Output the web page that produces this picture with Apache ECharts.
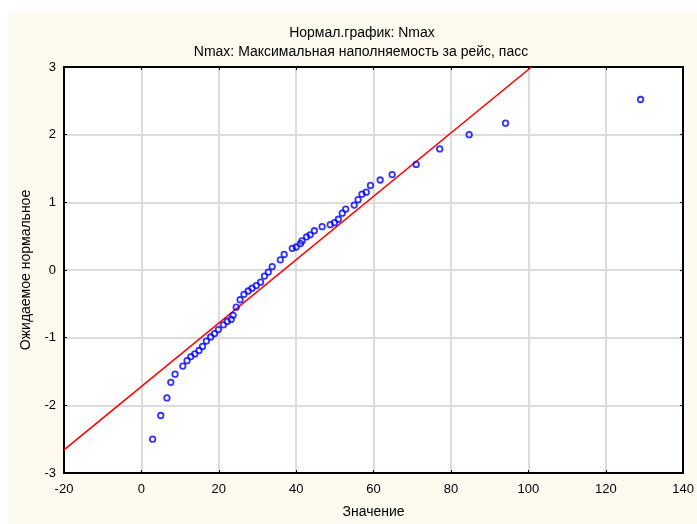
<!DOCTYPE html>
<html>
<head>
<meta charset="utf-8">
<script src="https://cdn.jsdelivr.net/npm/echarts@6/dist/echarts.min.js"></script>
<style>html,body{margin:0;padding:0;background:#fff;}#c{width:697px;height:524px;}</style>
</head>
<body>
<div id="c"></div>
<script>
var valuesX = [2.9, 5.0, 6.6, 7.6, 8.7, 10.7, 11.8, 12.8, 13.8, 14.9, 15.8, 16.8, 17.9, 18.9, 19.9,
  21.2, 22.2, 23.2, 23.7, 24.5, 25.5, 26.5, 27.6, 28.6, 29.7, 30.8, 31.8, 32.8, 33.8, 35.9,
  36.9, 39.0, 40.0, 41.1, 41.5, 42.7, 43.6, 44.7, 46.7, 48.8, 49.9, 50.9, 51.9, 52.8, 55.0,
  56.0, 57.0, 58.1, 59.2, 61.7, 64.8, 71.0, 77.1, 84.7, 94.1, 129.0];
var expectedY = [-2.50, -2.15, -1.89, -1.66, -1.54, -1.42, -1.34, -1.28, -1.24, -1.19, -1.13,
  -1.05, -0.99, -0.94, -0.88, -0.81, -0.76, -0.73, -0.67, -0.55, -0.44, -0.36, -0.31, -0.27,
  -0.23, -0.18, -0.09, -0.03, 0.05, 0.15, 0.23, 0.32, 0.34, 0.39, 0.43, 0.49, 0.52, 0.58,
  0.64, 0.67, 0.70, 0.75, 0.84, 0.90, 0.96, 1.04, 1.12, 1.15, 1.25, 1.33, 1.41, 1.56, 1.79,
  2.00, 2.17, 2.52];
// Reference (normal fit) line end points
var fitLineX = [-20, 100.8];
var fitLineY = [-2.66, 3.0];
var xTicks = [-20, 0, 20, 40, 60, 80, 100, 120, 140];
var yTicks = [-3, -2, -1, 0, 1, 2, 3];

var titleText = 'Нормал.график: Nmax';
var subtitleText = 'Nmax: Максимальная наполняемость за рейс, пасс';
var xName = 'Значение';
var yName = 'Ожидаемое нормальное';

var FONT = 'Liberation Sans';
var chart = echarts.init(document.getElementById('c'), null, {renderer: 'canvas'});

var scatterData = valuesX.map(function (v, i) { return [v, expectedY[i]]; });
var lineData = fitLineX.map(function (v, i) { return [v, fitLineY[i]]; });

var gridLine = {show: true, lineStyle: {color: '#dcdcdc', width: 2}};
var frameLine = {show: true, onZero: false, lineStyle: {color: '#000', width: 2}};
var inTick = {show: true, inside: true, length: 3, lineStyle: {color: '#000', width: 1}};

chart.setOption({
  backgroundColor: '#ffffff',
  animation: false,
  graphic: [{
    type: 'rect', z: -10, silent: true,
    shape: {x: 9, y: 13, width: 688, height: 511},
    style: {fill: '#fefaf0'}
  }],
  title: [{
    text: titleText, left: 357, top: 21, textAlign: 'center',
    textStyle: {fontFamily: FONT, fontSize: 14, fontWeight: 'normal', color: '#000'}
  }, {
    text: subtitleText, left: 356, top: 40, textAlign: 'center',
    textStyle: {fontFamily: FONT, fontSize: 14, fontWeight: 'normal', color: '#000'}
  }],
  grid: {left: 64, top: 67, right: 12, bottom: 46, show: true, backgroundColor: '#ffffff', borderWidth: 0},
  xAxis: [{
    type: 'value', min: -20, max: 140, interval: 20, position: 'bottom',
    name: xName, nameLocation: 'middle', nameGap: 32,
    nameTextStyle: {fontFamily: FONT, fontSize: 14, color: '#000'},
    axisLine: frameLine, axisTick: inTick, splitLine: gridLine,
    axisLabel: {fontFamily: FONT, fontSize: 13, color: '#000', margin: 10,
      formatter: function (v) { return xTicks.indexOf(v) >= 0 ? String(v) : ''; }}
  }, {
    type: 'value', min: -20, max: 140, interval: 20, position: 'top',
    axisLine: frameLine, axisTick: inTick, splitLine: {show: false}, axisLabel: {show: false}
  }],
  yAxis: [{
    type: 'value', min: -3, max: 3, interval: 1, position: 'left',
    name: yName, nameLocation: 'middle', nameGap: 26, nameRotate: 90,
    nameTextStyle: {fontFamily: FONT, fontSize: 14, color: '#000'},
    axisLine: frameLine, axisTick: inTick, splitLine: gridLine,
    axisLabel: {fontFamily: FONT, fontSize: 13, color: '#000', margin: 8,
      formatter: function (v) { return yTicks.indexOf(v) >= 0 ? String(v) : ''; }}
  }, {
    type: 'value', min: -3, max: 3, interval: 1, position: 'right',
    axisLine: frameLine, axisTick: inTick, splitLine: {show: false}, axisLabel: {show: false}
  }],
  series: [{
    type: 'line', data: lineData, xAxisIndex: 0, yAxisIndex: 0,
    showSymbol: false, symbol: 'none', clip: true,
    lineStyle: {color: '#ff0000', width: 1.6}, z: 3
  }, {
    type: 'scatter', data: scatterData, xAxisIndex: 0, yAxisIndex: 0,
    symbol: 'circle', symbolSize: 5.5,
    itemStyle: {color: 'rgba(255,255,255,0)', borderColor: '#0000ff', borderWidth: 1.8}, z: 4
  }]
});
</script>
</body>
</html>
